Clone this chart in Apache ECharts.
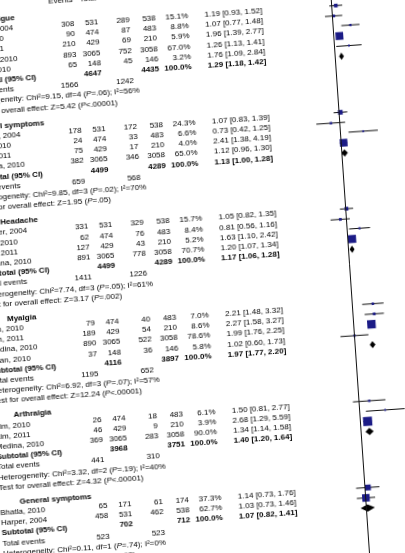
<!DOCTYPE html>
<html>
<head>
<meta charset="utf-8">
<script src="https://cdn.jsdelivr.net/npm/echarts@6/dist/echarts.min.js"></script>
<style>
html,body{margin:0;padding:0;width:405px;height:553px;overflow:hidden;background:#fff;}
#chart{position:absolute;left:-60px;top:-20px;width:470px;height:615px;transform-origin:60px 20px;transform:rotate(-3.95deg);}
</style>
</head>
<body>
<div id="chart"></div>
<script>
// ---------------- DATA ----------------
const subgroups = ['Fatigue', 'GI symptoms', 'Headache', 'Myalgia', 'Arthralgia', 'General symptoms'];
const studyGroup = [0,0,0,0,0, 1,1,1,1, 2,2,2,2, 3,3,3,3, 4,4,4, 5,5];
const studyNames = ['Harper, 2004','Kim, 2010','Kim, 2011','Medina, 2010','Khan, 2010',
  'Harper, 2004','Kim, 2010','Kim, 2011','Medina, 2010',
  'Harper, 2004','Kim, 2010','Kim, 2011','Medina, 2010',
  'Kim, 2010','Kim, 2011','Medina, 2010','Khan, 2010',
  'Kim, 2010','Kim, 2011','Medina, 2010',
  'Bhatla, 2010','Harper, 2004'];
const expEvents = [308,90,210,893,65, 178,24,75,382, 331,62,127,891, 79,189,890,37, 26,46,369, 65,458];
const expTotal  = [531,474,429,3065,148, 531,474,429,3065, 531,474,429,3065, 474,429,3065,148, 474,429,3065, 171,531];
const ctlEvents = [289,87,69,752,45, 172,33,17,346, 329,76,43,778, 40,54,522,36, 18,9,283, 61,462];
const ctlTotal  = [538,483,210,3058,146, 538,483,210,3058, 538,483,210,3058, 483,210,3058,146, 483,210,3058, 174,538];
const weights   = [15.1,8.8,5.9,67.0,3.2, 24.3,6.6,4.0,65.0, 15.7,8.4,5.2,70.7, 7.0,8.6,78.6,5.8, 6.1,3.9,90.0, 37.3,62.7];
const oddsRatio = [1.19,1.07,1.96,1.26,1.76, 1.07,0.73,2.41,1.12, 1.05,0.81,1.63,1.20, 2.21,2.27,1.99,1.02, 1.50,2.68,1.34, 1.14,1.03];
const ciLower   = [0.93,0.77,1.39,1.13,1.09, 0.83,0.42,1.38,0.96, 0.82,0.56,1.10,1.07, 1.48,1.58,1.76,0.60, 0.81,1.29,1.14, 0.73,0.73];
const ciUpper   = [1.52,1.48,2.77,1.41,2.84, 1.39,1.25,4.19,1.30, 1.35,1.16,2.42,1.34, 3.32,3.27,2.25,1.73, 2.77,5.59,1.58, 1.76,1.46];

const subExpTotal  = [4647,4499,4499,4116,3968,702];
const subCtlTotal  = [4435,4289,4289,3897,3751,712];
const subExpEvents = [1566,659,1411,1195,441,523];
const subCtlEvents = [1242,568,1226,652,310,523];
const subOR    = [1.29,1.13,1.17,1.97,1.40,1.07];
const subLower = [1.18,1.00,1.06,1.77,1.20,0.82];
const subUpper = [1.42,1.28,1.28,2.20,1.64,1.41];
const hetChi2 = ['9.15','9.85','7.74','6.92','3.32','0.11'];
const hetDf   = [4,3,3,3,2,1];
const hetP    = ['=.06','=.02','=.05','=.07','=.19','=.74'];
const hetI2   = [56,70,61,57,40,0];
const testZ   = ['5.42','1.95','3.17','12.24','4.32','0.49'];
const testP   = ['<.00001','=.05','=.002','<.00001','<.00001','=.62'];
const columnHeaders = ['Events','Total','Events','Total','Weight','M-H, Fixed, 95% CI'];

// ---------------- LAYOUT ----------------
const PITCH = 10.2, GAP = 4.8, FIRST = 18.5, HEAD_Y = 5;
const COL = {name:-35, header:-15, e1:72.5, t1:96.5, e2:128, t2:154, w:186.5, ci:232};
const FONT = '8px "Liberation Sans", Arial, sans-serif';
const BFONT = 'bold 8px "Liberation Sans", Arial, sans-serif';
const IFONT = 'italic 8px "Liberation Sans", Arial, sans-serif';

const texts = [];
function addText(x, y, text, align, bold) { texts.push({x, y, text: String(text), align, bold}); }
const fmtCI = (o, l, h) => o.toFixed(2) + ' [' + l.toFixed(2) + ', ' + h.toFixed(2) + ']';

const studyRows = [];   // [or, y, lo, hi, weight]
const diamondRows = []; // [or, y, lo, hi]

// column headers
const hx = [COL.e1, COL.t1, COL.e2, COL.t2, COL.w, COL.ci];
const ha = ['right','right','right','right','right','center'];
columnHeaders.forEach((h, i) => addText(hx[i], HEAD_Y, h, ha[i], false));

let y = FIRST;
subgroups.forEach((g, gi) => {
  addText(COL.header, y, g, 'left', true);
  y += PITCH;
  studyGroup.forEach((sg, si) => {
    if (sg !== gi) return;
    addText(COL.name, y, studyNames[si], 'left', false);
    addText(COL.e1, y, expEvents[si], 'right', false);
    addText(COL.t1, y, expTotal[si], 'right', false);
    addText(COL.e2, y, ctlEvents[si], 'right', false);
    addText(COL.t2, y, ctlTotal[si], 'right', false);
    addText(COL.w, y, weights[si].toFixed(1) + '%', 'right', false);
    addText(COL.ci, y, fmtCI(oddsRatio[si], ciLower[si], ciUpper[si]), 'center', false);
    studyRows.push([oddsRatio[si], y, ciLower[si], ciUpper[si], weights[si]]);
    y += PITCH;
  });
  addText(COL.name, y, 'Subtotal (95% CI)', 'left', true);
  addText(COL.t1, y, subExpTotal[gi], 'right', true);
  addText(COL.t2, y, subCtlTotal[gi], 'right', true);
  addText(COL.w, y, '100.0%', 'right', true);
  addText(COL.ci, y, fmtCI(subOR[gi], subLower[gi], subUpper[gi]), 'center', true);
  diamondRows.push([subOR[gi], y, subLower[gi], subUpper[gi]]);
  y += PITCH;
  addText(COL.name, y, 'Total events', 'left', false);
  addText(COL.e1, y, subExpEvents[gi], 'right', false);
  addText(COL.e2, y, subCtlEvents[gi], 'right', false);
  y += PITCH;
  addText(COL.name, y, 'Heterogeneity: Chi²=' + hetChi2[gi] + ', df=' + hetDf[gi] + ' ({i|P}' + hetP[gi] + '); I²=' + hetI2[gi] + '%', 'left', false);
  y += PITCH;
  addText(COL.name, y, 'Test for overall effect: Z=' + testZ[gi] + ' ({i|P}' + testP[gi] + ')', 'left', false);
  y += PITCH + GAP;
});

// ---------------- CHART ----------------
const chart = echarts.init(document.getElementById('chart'), null, {renderer: 'canvas'});
const yAxisCommon = {type: 'value', inverse: true, min: -20, max: 595, show: false};

chart.setOption({
  animation: false,
  backgroundColor: '#ffffff',
  grid: [
    {left: 0, right: 0, top: 0, bottom: 0},
    {left: 329, width: 122, top: 0, bottom: 0}
  ],
  xAxis: [
    {type: 'value', gridIndex: 0, min: -60, max: 410, show: false},
    {type: 'log', logBase: 10, gridIndex: 1, min: 0.1, max: 10, show: false}
  ],
  yAxis: [
    Object.assign({gridIndex: 0}, yAxisCommon),
    Object.assign({gridIndex: 1}, yAxisCommon)
  ],
  series: [
    {
      type: 'custom', xAxisIndex: 0, yAxisIndex: 0, clip: false, silent: true,
      data: texts.map(t => [t.x, t.y]),
      renderItem: function (params, api) {
        const t = texts[params.dataIndex];
        const p = api.coord([api.value(0), api.value(1)]);
        return {
          type: 'text', x: p[0], y: p[1],
          style: {
            text: t.text, fill: '#000', font: t.bold ? BFONT : FONT,
            align: t.align, verticalAlign: 'middle',
            rich: {i: {font: IFONT, fill: '#000'}}
          }
        };
      }
    },
    {
      type: 'custom', xAxisIndex: 1, yAxisIndex: 1, clip: false, silent: true,
      data: studyRows,
      renderItem: function (params, api) {
        const yy = api.value(1);
        const c = api.coord([api.value(0), yy]);
        const l = api.coord([api.value(2), yy]);
        const h = api.coord([api.value(3), yy]);
        const s = Math.max(1.8, 0.95 * Math.sqrt(api.value(4)));
        return {type: 'group', children: [
          {type: 'line', shape: {x1: l[0], y1: l[1], x2: h[0], y2: h[1]}, style: {stroke: '#111', lineWidth: 1}},
          {type: 'rect', shape: {x: c[0] - s / 2, y: c[1] - s / 2, width: s, height: s}, style: {fill: '#1b1b86'}}
        ]};
      },
      markLine: {
        silent: true, symbol: 'none', animation: false,
        label: {show: false},
        lineStyle: {color: '#111', width: 1, type: 'solid'},
        data: [{xAxis: 1}]
      }
    },
    {
      type: 'custom', xAxisIndex: 1, yAxisIndex: 1, clip: false, silent: true,
      data: diamondRows,
      renderItem: function (params, api) {
        const yy = api.value(1);
        const c = api.coord([api.value(0), yy]);
        const l = api.coord([api.value(2), yy]);
        const h = api.coord([api.value(3), yy]);
        const hh = 3.6;
        return {
          type: 'polygon',
          shape: {points: [[l[0], c[1]], [c[0], c[1] - hh], [h[0], c[1]], [c[0], c[1] + hh]]},
          style: {fill: '#000'}
        };
      }
    }
  ]
});
</script>
</body>
</html>
